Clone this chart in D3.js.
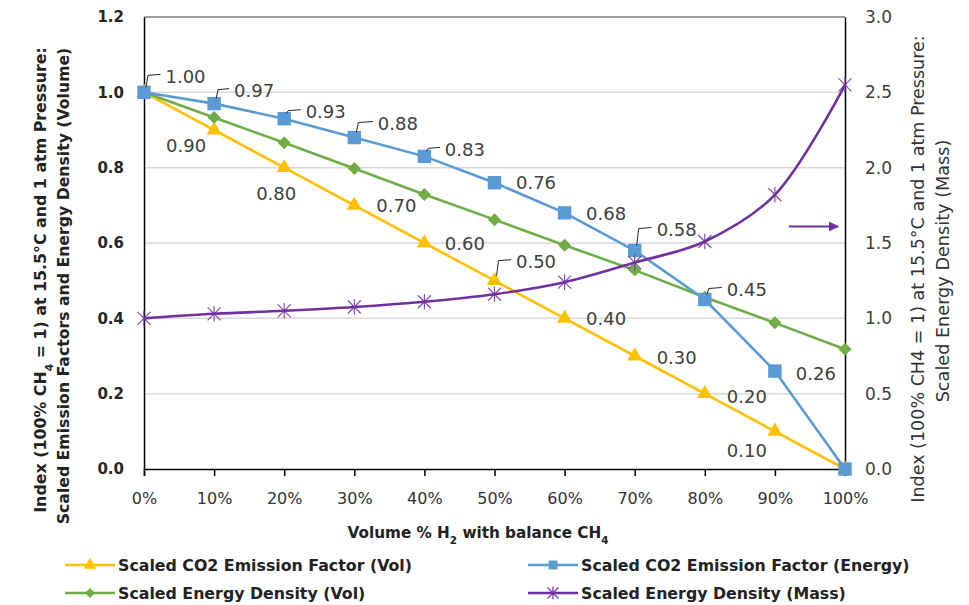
<!DOCTYPE html>
<html>
<head>
<meta charset="utf-8">
<script src="https://cdn.jsdelivr.net/npm/d3@7"></script>
<style>
  body { margin: 0; background: #fff; }
  svg { font-family: "DejaVu Sans", sans-serif; }
</style>
</head>
<body>
<svg id="chart" width="969" height="605"></svg>
<script>
// data
const h2Share = [0, 10, 20, 30, 40, 50, 60, 70, 80, 90, 100];
const co2Vol = [1.00, 0.90, 0.80, 0.70, 0.60, 0.50, 0.40, 0.30, 0.20, 0.10, 0.00];
const co2Energy = [1.00, 0.97, 0.93, 0.88, 0.83, 0.76, 0.68, 0.58, 0.45, 0.26, 0.00];
const energyVol = [1.00, 0.933, 0.866, 0.798, 0.729, 0.662, 0.594, 0.528, 0.456, 0.388, 0.318];
const energyMass = [1.00, 1.03, 1.05, 1.075, 1.11, 1.16, 1.24, 1.37, 1.51, 1.82, 2.55];
const leftTicks = [0, 0.2, 0.4, 0.6, 0.8, 1.0, 1.2];
const rightTicks = [0, 0.5, 1.0, 1.5, 2.0, 2.5, 3.0];
const seriesNames = ["Scaled CO2 Emission Factor (Vol)", "Scaled CO2 Emission Factor (Energy)",
                     "Scaled Energy Density (Vol)", "Scaled Energy Density (Mass)"];

const svg = d3.select("#chart");
const m = { left: 144, right: 845, top: 17, bottom: 469 };

const x = d3.scaleLinear().domain([0, 100]).range([m.left, m.right]);
const y = d3.scaleLinear().domain([0, 1.2]).range([m.bottom, m.top]);
const y2 = d3.scaleLinear().domain([0, 3]).range([m.bottom, m.top]);

const yellow = "#FFC000", blue = "#5B9BD5", green = "#70AD47", purple = "#7030A0";
const labelColor = "#404040";

// shrink / grow a text's font so it covers the width seen in the picture
function fit(sel, width) {
  const len = sel.node().getComputedTextLength();
  const fs = parseFloat(sel.attr("font-size"));
  sel.attr("font-size", (fs * width / len).toFixed(2));
  return fs * width / len;
}

// gridlines
svg.append("g").selectAll("line").data(leftTicks.filter(d => d > 0 && d < 1.2)).join("line")
  .attr("x1", m.left).attr("x2", m.right)
  .attr("y1", d => y(d)).attr("y2", d => y(d))
  .attr("stroke", "#d9d9d9").attr("stroke-width", 1.5);

// frame top
svg.append("line").attr("x1", m.left).attr("x2", m.right).attr("y1", m.top).attr("y2", m.top)
  .attr("stroke", "#404040").attr("stroke-width", 1);

// left axis
const yAxis = svg.append("g").attr("transform", `translate(${m.left},0)`)
  .call(d3.axisLeft(y).tickValues(leftTicks).tickFormat(d3.format(".1f")).tickSize(0).tickPadding(20));
yAxis.select(".domain").attr("stroke", "#000").attr("stroke-width", 1.5);
yAxis.selectAll("text").attr("font-size", 15).attr("font-weight", "bold").attr("fill", "#262626")
  .attr("font-family", "DejaVu Sans, sans-serif");

// right axis
const y2Axis = svg.append("g").attr("transform", `translate(${m.right},0)`)
  .call(d3.axisRight(y2).tickValues(rightTicks).tickFormat(d3.format(".1f")).tickSize(0).tickPadding(20));
y2Axis.select(".domain").attr("stroke", "#000").attr("stroke-width", 1.5);
y2Axis.selectAll("text").attr("font-size", 17).attr("fill", "#404040")
  .attr("font-family", "DejaVu Sans, sans-serif");

// bottom axis
const xAxis = svg.append("g").attr("transform", `translate(0,${m.bottom})`)
  .call(d3.axisBottom(x).tickValues(h2Share).tickFormat(d => d + "%").tickSize(7).tickPadding(17));
xAxis.select(".domain").attr("stroke", "#000").attr("stroke-width", 1.5);
xAxis.selectAll("line").attr("stroke", "#000").attr("stroke-width", 1.5);
xAxis.selectAll("text").attr("font-size", 16).attr("fill", "#333")
  .attr("font-family", "DejaVu Sans, sans-serif");

// axis titles: parts are [text, isSubscript]
function title(tx, ty, rot, parts, width, bold) {
  const t = svg.append("text").attr("transform", `translate(${tx},${ty}) rotate(${rot})`)
    .attr("text-anchor", "middle").attr("dy", "0.35em").attr("font-size", 15)
    .attr("font-weight", bold ? "bold" : "normal").attr("fill", bold ? "#222" : "#333");
  parts.forEach(p => {
    const s = t.append("tspan").text(p[0]);
    if (p[1]) s.attr("font-size", "0.68em").attr("baseline-shift", "sub");
  });
  fit(t, width);
}
title(40, 280, -90, [["Index (100% CH"], ["4", true], [" = 1) at 15.5°C and 1 atm Pressure:"]], 466, true);
title(63, 286, -90, [["Scaled Emission Factors and Energy Density (Volume)"]], 477, true);
title(918, 269, -90, [["Index (100% CH4 = 1) at 15.5°C and 1 atm Pressure:"]], 468, false);
title(943, 271, -90, [["Scaled Energy Density (Mass)"]], 263, false);
title(478, 533, 0, [["Volume % H"], ["2", true], [" with balance CH"], ["4", true]], 261, true);

// series
const sym = {
  tri: d3.symbol().type(d3.symbolTriangle).size(100)(),
  sq: d3.symbol().type(d3.symbolSquare).size(180)(),
  dia: "M0,-6.5L6.5,0L0,6.5L-6.5,0Z"
};
function starPath(s) {
  return `M${-s},${-s}L${s},${s}M${-s},${s}L${s},${-s}M0,${-s * 1.2}L0,${s * 1.2}`;
}

function drawSeries(vals, scale, color, marker, smooth) {
  const pts = h2Share.map((h, i) => [x(h), scale(vals[i])]);
  const line = d3.line();
  if (smooth) line.curve(d3.curveCatmullRom.alpha(0.5));
  svg.append("path").attr("d", line(pts)).attr("fill", "none")
    .attr("stroke", color).attr("stroke-width", 2.6);
  const g = svg.append("g");
  pts.forEach(p => {
    if (marker === "star") {
      g.append("path").attr("d", starPath(6.5)).attr("transform", `translate(${p[0]},${p[1]})`)
        .attr("stroke", color).attr("stroke-width", 1.2).attr("fill", "none").attr("opacity", 0.85);
    } else {
      g.append("path").attr("d", sym[marker]).attr("transform", `translate(${p[0]},${p[1]})`)
        .attr("fill", color);
    }
  });
  return pts;
}

const yPts = drawSeries(co2Vol, y, yellow, "tri");
drawSeries(energyVol, y, green, "dia");
const bPts = drawSeries(co2Energy, y, blue, "sq");
drawSeries(energyMass, y2, purple, "star", true);

// data labels: offset of the label centre from the point, and whether a leader is drawn
const yellowOff = [null, [-28, 16], [-8, 26], [42, 0], [40.5, 0.5], [41.5, -19], [41.5, 0.5], [42, 2], [42, 3], [-28, 19], null];
const yellowLead = [0, 0, 0, 0, 0, 1, 0, 0, 0, 0, 0];
const blueOff = [[41.5, -16], [40, -13], [41.5, -7], [43.5, -14], [40.5, -7], [41.5, 0], [41.5, 1], [42, -21], [42, -10], [41, 2], null];
const blueLead = [1, 1, 1, 1, 1, 0, 0, 1, 1, 0, 0];

function drawLabels(pts, vals, offs, leads) {
  const g = svg.append("g");
  pts.forEach((p, i) => {
    if (!offs[i]) return;
    const lx = p[0] + offs[i][0], ly = p[1] + offs[i][1];
    const t = g.append("text").attr("x", lx).attr("y", ly).attr("dy", "0.36em")
      .attr("text-anchor", "middle").attr("font-size", 18).attr("fill", labelColor)
      .text(d3.format(".2f")(vals[i]));
    if (leads[i]) {
      const left = lx - t.node().getComputedTextLength() / 2;
      g.append("path")
        .attr("d", `M${p[0] + 2},${p[1] - 5}L${p[0] + 4},${ly - 1}L${left - 5},${ly - 2}`)
        .attr("fill", "none").attr("stroke", "#262626").attr("stroke-width", 1);
    }
  });
}
drawLabels(yPts, co2Vol, yellowOff, yellowLead);
drawLabels(bPts, co2Energy, blueOff, blueLead);

// arrow pointing at the right axis
svg.append("defs").append("marker").attr("id", "ah").attr("viewBox", "0 0 10 10")
  .attr("refX", 9).attr("refY", 5).attr("markerWidth", 5).attr("markerHeight", 5)
  .attr("orient", "auto").append("path").attr("d", "M0,0L10,5L0,10Z").attr("fill", purple);
svg.append("line").attr("x1", x(92)).attr("x2", x(99))
  .attr("y1", y2(1.61)).attr("y2", y2(1.61))
  .attr("stroke", purple).attr("stroke-width", 2).attr("marker-end", "url(#ah)");

// legend
const legendCols = [65, 528];
const legendRows = [565, 593];
const legendStyle = [[yellow, "tri"], [blue, "sq"], [green, "dia"], [purple, "star"]];
const legendMark = {
  tri: d3.symbol().type(d3.symbolTriangle).size(70)(),
  sq: d3.symbol().type(d3.symbolSquare).size(80)(),
  dia: "M0,-5L5,0L0,5L-5,0Z"
};
let legendSize = null;
seriesNames.forEach((name, i) => {
  const lx = legendCols[i % 2], ly = legendRows[Math.floor(i / 2)];
  const g = svg.append("g").attr("transform", `translate(${lx},${ly})`);
  g.append("line").attr("x1", 0).attr("x2", 50).attr("stroke", legendStyle[i][0]).attr("stroke-width", 2.6);
  if (legendStyle[i][1] === "star") {
    g.append("path").attr("d", starPath(5.5)).attr("transform", "translate(25,0)")
      .attr("stroke", legendStyle[i][0]).attr("stroke-width", 1.2).attr("fill", "none");
  } else {
    g.append("path").attr("d", legendMark[legendStyle[i][1]])
      .attr("transform", "translate(25,0)").attr("fill", legendStyle[i][0]);
  }
  const t = g.append("text").attr("x", 53).attr("dy", "0.36em").attr("font-size", 15)
    .attr("font-weight", "bold").attr("fill", "#222").text(name);
  if (legendSize === null) legendSize = fit(t, 294);
  else t.attr("font-size", legendSize.toFixed(2));
});
</script>
</body>
</html>
